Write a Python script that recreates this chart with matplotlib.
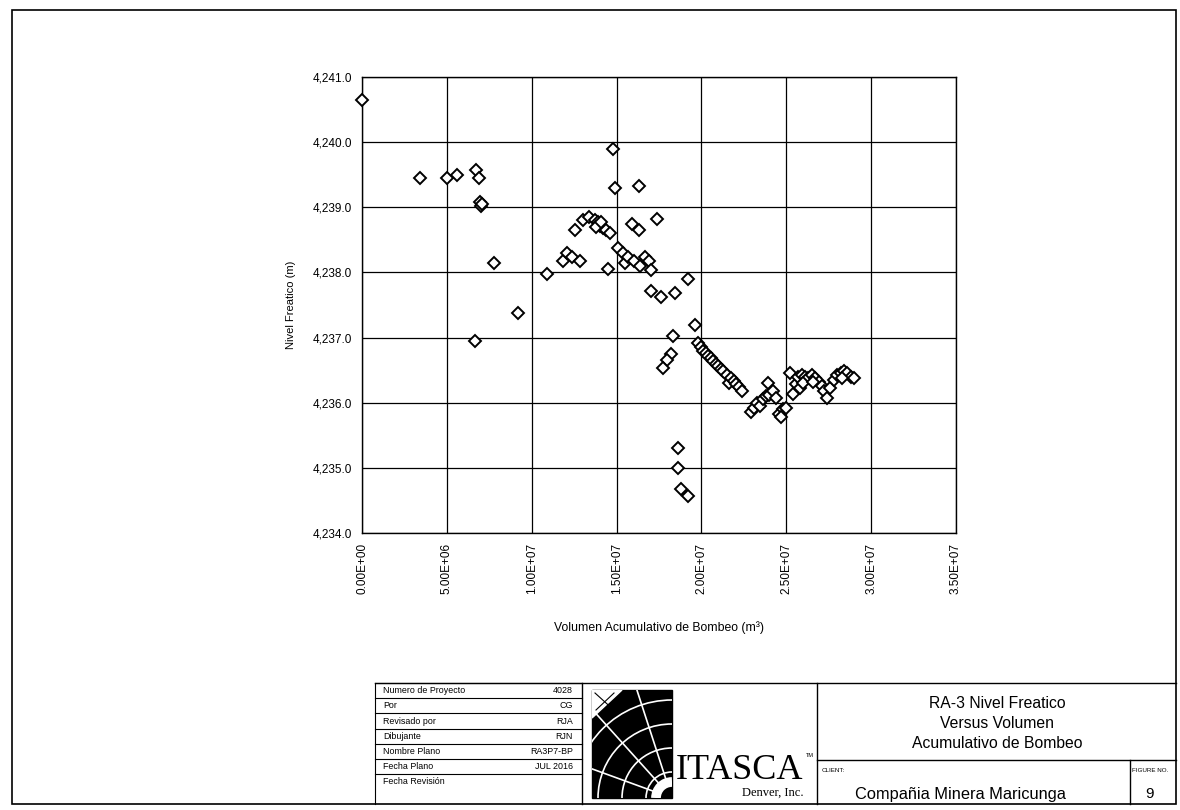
import numpy as np
import matplotlib.pyplot as plt
from matplotlib.patches import Rectangle, Arc, Polygon

plt.rcParams['font.family'] = ['Liberation Sans', 'DejaVu Sans']

# cumulative pumped volume (m3) and water level (m) at well RA-3
volumen = [
    0.0e6, 3.4e6, 5.0e6, 5.6e6, 6.7e6, 6.9e6, 6.95e6, 7.0e6, 7.05e6, 6.65e6,
    7.8e6, 9.2e6, 10.9e6, 11.85e6, 12.1e6, 12.4e6, 12.85e6, 12.55e6, 13.0e6,
    13.4e6, 13.7e6, 13.9e6, 14.0e6, 14.2e6, 14.4e6, 14.6e6, 13.8e6, 14.1e6,
    14.5e6, 14.8e6, 14.9e6, 15.1e6, 15.4e6, 15.5e6, 15.7e6, 16.0e6, 16.4e6,
    16.7e6, 16.9e6, 17.0e6, 15.9e6, 16.3e6, 16.3e6, 17.4e6, 17.0e6, 17.6e6,
    18.45e6, 19.2e6, 19.6e6, 18.3e6, 18.2e6, 18.0e6, 17.75e6,
    18.6e6, 18.6e6, 18.8e6, 19.2e6,
    19.8e6, 19.95e6, 20.1e6, 20.25e6, 20.4e6, 20.55e6, 20.7e6, 20.85e6, 21.0e6,
    21.15e6, 21.3e6, 21.5e6, 21.6e6, 21.75e6, 21.9e6, 22.05e6, 22.2e6, 22.4e6,
    22.9e6, 23.1e6, 23.3e6, 23.45e6, 23.6e6, 23.8e6, 23.9e6, 24.0e6, 24.2e6,
    24.4e6, 24.6e6, 24.8e6, 25.0e6, 24.7e6,
    25.2e6, 25.4e6, 25.6e6, 25.8e6, 25.7e6, 25.9e6, 26.1e6, 26.3e6, 26.5e6,
    26.7e6, 26.9e6, 27.1e6, 27.2e6, 27.4e6, 27.6e6, 27.8e6, 28.0e6, 28.2e6,
    28.4e6, 28.6e6, 28.8e6, 29.0e6, 26.0e6, 26.6e6, 28.3e6,
]
nivel = [
    4240.65, 4239.45, 4239.45, 4239.50, 4239.57, 4239.45, 4239.08, 4239.02, 4239.05, 4236.95,
    4238.14, 4237.37, 4237.98, 4238.18, 4238.30, 4238.23, 4238.18, 4238.65, 4238.80,
    4238.85, 4238.80, 4238.78, 4238.72, 4238.68, 4238.65, 4238.60, 4238.70, 4238.78,
    4238.05, 4239.90, 4239.30, 4238.38, 4238.30, 4238.14, 4238.23, 4238.18, 4238.10,
    4238.23, 4238.18, 4238.03, 4238.74, 4238.65, 4239.32, 4238.82, 4237.72, 4237.62,
    4237.68, 4237.90, 4237.20, 4237.03, 4236.75, 4236.65, 4236.54,
    4235.30, 4235.00, 4234.68, 4234.57,
    4236.92, 4236.85, 4236.80, 4236.76, 4236.72, 4236.68, 4236.64, 4236.60, 4236.56,
    4236.52, 4236.48, 4236.42, 4236.30, 4236.38, 4236.33, 4236.28, 4236.24, 4236.18,
    4235.85, 4235.92, 4236.00, 4235.95, 4236.05, 4236.10, 4236.30, 4236.12, 4236.18,
    4236.08, 4235.83, 4235.90, 4235.92, 4235.78,
    4236.45, 4236.14, 4236.28, 4236.22, 4236.40, 4236.42, 4236.40, 4236.38, 4236.42,
    4236.38, 4236.32, 4236.25, 4236.18, 4236.08, 4236.22, 4236.35, 4236.42, 4236.45,
    4236.48, 4236.45, 4236.40, 4236.38, 4236.30, 4236.32, 4236.38,
]

x_ticks = np.arange(0, 3.5e7 + 1, 5e6)
y_ticks = np.arange(4234, 4242, 1)

# title block rows
filas = ["Numero de Proyecto", "Por", "Revisado por", "Dibujante",
         "Nombre Plano", "Fecha Plano", "Fecha Revisión"]
valores = ["4028", "CG", "RJA", "RJN", "RA3P7-BP", "JUL 2016", ""]

W, H = 1180, 810
fig = plt.figure(figsize=(W / 100, H / 100), dpi=100)

# page overlay in pixel units for the frame and title block
pg = fig.add_axes([0, 0, 1, 1])
pg.set_xlim(0, W)
pg.set_ylim(H, 0)
pg.axis('off')

bottom = 804
pg.add_patch(Rectangle((12, 10), 1164, bottom - 10, fill=False, ec='black', lw=1.2))

# table
tx0, tx1, ty0, rh = 375, 582, 683, 15.2
for i, (f, v) in enumerate(zip(filas, valores)):
    y = ty0 + i * rh
    pg.plot([tx0, tx1], [y, y], color='black', lw=0.8)
    pg.text(tx0 + 8, y + rh / 2, f, fontsize=6.4, va='center', ha='left')
    pg.text(tx1 - 9, y + rh / 2, v, fontsize=6.4, va='center', ha='right')
pg.plot([tx0, tx0], [ty0, bottom], color='black', lw=0.8)
pg.plot([tx1, tx1], [ty0, bottom], color='black', lw=1.0)
pg.plot([tx0, 1176], [ty0, ty0], color='black', lw=1.0)

# logo: black square with a white curved mesh, clipped to the square
lx0, ly0, lx1, ly1 = 592, 690, 672, 798
sq = Rectangle((lx0, ly0), lx1 - lx0, ly1 - ly0, color='black')
pg.add_patch(sq)
logo_parts = [Polygon([(lx0, ly0), (lx0 + 30, ly0), (lx0, ly0 + 28)], color='white')]
for r in (26, 50, 74, 98):
    logo_parts.append(Arc((lx1, ly1), 2 * r, 2 * r, theta1=180, theta2=270,
                          color='white', lw=1.2))
logo_parts.append(Arc((lx1, ly1), 32, 32, theta1=180, theta2=270, color='white', lw=7))
for p in logo_parts:
    pg.add_patch(p)
    p.set_clip_path(sq)
for ang in (200, 228, 252):
    a = np.deg2rad(ang)
    ln, = pg.plot([lx1 + 16 * np.cos(a), lx1 + 130 * np.cos(a)],
                  [ly1 + 16 * np.sin(a), ly1 + 130 * np.sin(a)], color='white', lw=1.2)
    ln.set_clip_path(sq)
for xs, ys in (([lx0 + 3, lx0 + 24], [ly0 + 3, ly0 + 22]),
               ([lx0 + 22, lx0 + 4], [ly0 + 3, ly0 + 20])):
    ln, = pg.plot(xs, ys, color='black', lw=0.8)
    ln.set_clip_path(sq)

pg.text(676, 779, "ITASCA", family='Liberation Serif', fontsize=26, va='baseline', ha='left')
pg.text(806, 757, "TM", fontsize=4, va='baseline', ha='left')
pg.text(804, 796, "Denver, Inc.", family='Liberation Serif', fontsize=9, va='baseline', ha='right')

# title and client
pg.plot([817, 817], [ty0, bottom], color='black', lw=1.0)
pg.plot([817, 1176], [760, 760], color='black', lw=1.0)
pg.plot([1130, 1130], [760, bottom], color='black', lw=1.0)
for txt, yy in (("RA-3 Nivel Freatico", 703), ("Versus Volumen", 723),
                ("Acumulativo de Bombeo", 743)):
    pg.text(997, yy, txt, fontsize=11.3, ha='center', va='center')
pg.text(822, 770, "CLIENT:", fontsize=4.5, ha='left', va='center')
pg.text(960, 794, "Compañia Minera Maricunga", fontsize=11.8, ha='center', va='center')
pg.text(1150, 770, "FIGURE NO.", fontsize=4.5, ha='center', va='center')
pg.text(1150, 794, "9", fontsize=11, ha='center', va='center')

# scatter chart
ax = fig.add_axes([362 / W, 1 - 533 / H, (956 - 362) / W, (533 - 77) / H])
ax.plot(volumen, nivel, 'D', mfc='white', mec='black', ms=6.5, mew=1.4,
        clip_on=False, zorder=3)
ax.set_xlim(0, 3.5e7)
ax.set_ylim(4234, 4241)
ax.set_xticks(x_ticks)
ax.set_xticklabels(["{:.2E}".format(v) for v in x_ticks], rotation=90, fontsize=8.5)
ax.set_yticks(y_ticks)
ax.set_yticklabels(["{:,.1f}".format(v) for v in y_ticks], fontsize=8.5)
ax.tick_params(length=0, pad=7)
ax.grid(True, color='black', lw=0.9)
ax.set_axisbelow(True)
for s in ax.spines.values():
    s.set_color('black')
    s.set_linewidth(1.0)
ax.set_xlabel("Volumen Acumulativo de Bombeo (m³)", fontsize=8.8, labelpad=20)
ax.set_ylabel("Nivel Freatico (m)", fontsize=8, labelpad=12)

fig.savefig('out.png', dpi=100)
